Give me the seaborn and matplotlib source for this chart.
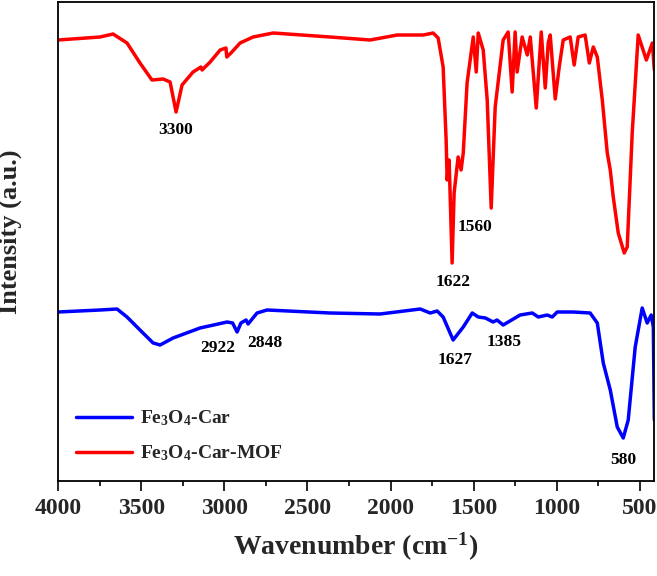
import numpy as np
import pandas as pd
import seaborn as sns
import matplotlib.pyplot as plt
from matplotlib.ticker import MultipleLocator

# Fe3O4-Car-MOF spectrum (red)
mof_wavenumber = [4000, 3747, 3669, 3585, 3507, 3435, 3368, 3326, 3290, 3254,
                  3188, 3140, 3134, 3085, 3025, 2990, 2985, 2960, 2905, 2827,
                  2706, 2364, 2123, 1960, 1804, 1744, 1714, 1684, 1666, 1660,
                  1648, 1630, 1618, 1594, 1576, 1563, 1540, 1503, 1485, 1473,
                  1443, 1419, 1395, 1371, 1323, 1293, 1269, 1251, 1239, 1209,
                  1178, 1160, 1124, 1094, 1070, 1052, 1040, 1010, 986, 962,
                  920, 896, 872, 830, 805, 781, 757, 727, 697, 679,
                  661, 631, 595, 577, 547, 511, 462, 426, 414]
mof_intensity = [441, 444, 447, 438, 418, 401, 402, 399, 369, 396,
                 409, 414, 411, 419, 431, 433, 424, 428, 438, 444,
                 448, 444, 441, 446, 446, 448, 443, 414, 341, 301,
                 321, 218, 288, 324, 311, 328, 398, 444, 409, 448,
                 431, 381, 273, 374, 441, 449, 389, 449, 409, 444,
                 426, 444, 373, 449, 393, 438, 446, 382, 414, 441,
                 444, 416, 444, 446, 418, 434, 424, 381, 328, 311,
                 284, 248, 228, 234, 348, 446, 421, 438, 411]

# Fe3O4-Car spectrum (blue)
car_wavenumber = [4000, 3747, 3645, 3585, 3507, 3428, 3386, 3308, 3146, 2983,
                  2950, 2923, 2900, 2869, 2857, 2803, 2743, 2364, 2063, 1822,
                  1762, 1720, 1684, 1624, 1563, 1509, 1473, 1430, 1383, 1360,
                  1323, 1221, 1148, 1112, 1058, 1028, 998, 902, 800, 757,
                  721, 679, 637, 601, 571, 529, 487, 457, 433, 420, 414]
car_intensity = [169, 171, 172, 164, 151, 138, 136, 143, 153, 159,
                 158, 149, 158, 161, 157, 168, 171, 168, 167, 172,
                 168, 170, 164, 141, 154, 168, 164, 163, 159, 161,
                 156, 166, 168, 164, 166, 164, 169, 169, 168, 158,
                 118, 91, 54, 43, 61, 134, 173, 158, 166, 154, 61]

# peak labels
peak_labels = ['3300', '1622', '1560', '2922', '2848', '1627', '1385', '580']
peak_x = [3290, 1624, 1491, 3037, 2755, 1611, 1317, 600]
peak_y = [351, 199, 254, 133, 138, 121, 139, 21]

# x ticks
x_ticks = [4000, 3500, 3000, 2500, 2000, 1500, 1000, 500]
x_tick_labels = ['4000', '3500', '3000', '2500', '2000', '1500', '1000', '500']

sns.set_theme(style="white")
plt.rcParams['font.family'] = ['Liberation Serif', 'DejaVu Serif']
plt.rcParams['font.weight'] = 'bold'
plt.rcParams['mathtext.fontset'] = 'custom'
plt.rcParams['mathtext.rm'] = 'Liberation Serif:bold'
plt.rcParams['mathtext.it'] = 'Liberation Serif:bold:italic'
plt.rcParams['mathtext.bf'] = 'Liberation Serif:bold'
plt.rcParams['mathtext.default'] = 'rm'

fig = plt.figure(figsize=(6.57, 5.76), dpi=100)
ax = fig.add_axes([58 / 657, 1 - 481 / 576, 596 / 657, 479 / 576])

car = pd.DataFrame({'Wavenumber': car_wavenumber, 'Intensity': car_intensity})
mof = pd.DataFrame({'Wavenumber': mof_wavenumber, 'Intensity': mof_intensity})

sns.lineplot(data=car, x='Wavenumber', y='Intensity', color='#0000FF', lw=2.5,
             sort=False, estimator=None, label=r'Fe$_3$O$_4$-Car', ax=ax)
sns.lineplot(data=mof, x='Wavenumber', y='Intensity', color='#FF0000', lw=2.5,
             sort=False, estimator=None, label=r'Fe$_3$O$_4$-Car-MOF', ax=ax)

# peak positions
for lab, px, py in zip(peak_labels, peak_x, peak_y):
    ax.text(px, py, lab, ha='center', va='center', fontsize=12.5,
            fontweight='bold', color='black')

ax.set_xlim(4000, 416)
ax.set_ylim(0, 479)
ax.set_xticks(x_ticks)
ax.set_xticklabels(x_tick_labels, fontsize=17, fontweight='bold')
ax.xaxis.set_minor_locator(MultipleLocator(250))
ax.set_yticks([])
ax.tick_params(axis='x', which='major', direction='out', length=7, width=1.2,
               pad=5, color='black', bottom=True)
ax.tick_params(axis='x', which='minor', direction='out', length=3.5, width=1.2,
               color='black', bottom=True)

for s in ax.spines.values():
    s.set_color('black')
    s.set_linewidth(1.3)

ax.set_xlabel('Wavenumber (cm$^{-1}$)', fontsize=20, fontweight='bold', labelpad=9)
ax.set_ylabel('Intensity (a.u.)', fontsize=19, fontweight='bold')
ax.yaxis.set_label_coords(-0.06, 0.52)

ax.legend(loc='lower left', bbox_to_anchor=(0.0, 0.0), frameon=False,
          handlelength=2.9, handletextpad=0.4, labelspacing=0.8,
          prop={'family': 'Liberation Serif', 'weight': 'bold', 'size': 14})

plt.savefig('out.png', dpi=100)
